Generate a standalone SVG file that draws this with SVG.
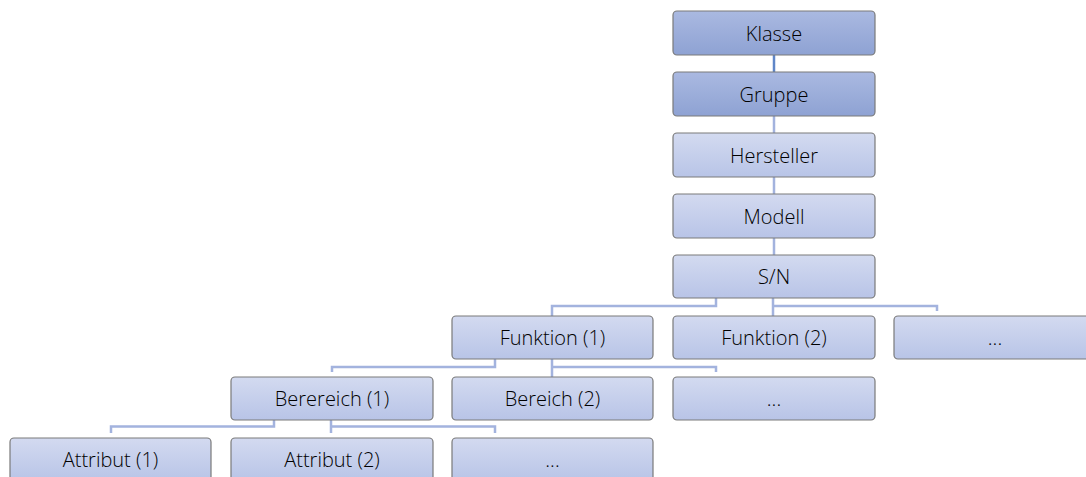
<svg xmlns="http://www.w3.org/2000/svg" width="1086" height="477" viewBox="0 0 1086 477">
<defs>
<linearGradient id="gDark" x1="0" y1="0" x2="0" y2="1">
<stop offset="0" stop-color="#aab9e1"/>
<stop offset="1" stop-color="#8ea2d3"/>
</linearGradient>
<linearGradient id="gLight" x1="0" y1="0" x2="0" y2="1">
<stop offset="0" stop-color="#d3daf0"/>
<stop offset="1" stop-color="#b8c4e7"/>
</linearGradient>
<style>
.box{stroke:#7a7a7a;stroke-width:1.2}
.dark{fill:url(#gDark)}
.light{fill:url(#gLight)}
.lbl{font-family:"Open Sans","Noto Sans",sans-serif;font-weight:300;font-size:20px;fill:#000000;text-anchor:middle;dominant-baseline:central}
.con{fill:none;stroke:#a3b3de;stroke-width:2.5}
.conDark{fill:none;stroke:#5f86c8;stroke-width:2.5}
</style>
</defs>
<rect width="1086" height="477" fill="#ffffff"/>
<g id="connectors">
<path class="conDark" d="M774 55V72"/>
<path class="con" d="M774 116V133"/>
<path class="con" d="M774 177V194"/>
<path class="con" d="M774 238V255"/>
<path class="con" d="M716 298V306H552V316"/>
<path class="con" d="M773 298V316"/>
<path class="con" d="M773 306H937V311"/>
<path class="con" d="M495 359V367H332V372"/>
<path class="con" d="M552 359V377"/>
<path class="con" d="M552 367H716V372"/>
<path class="con" d="M274 420V426.5H111V433"/>
<path class="con" d="M331 420V433"/>
<path class="con" d="M331 426.5H495V433"/>
</g>
<g id="klasse"><rect class="box dark" x="673" y="11" width="202" height="44" rx="4"/><text class="lbl" x="774" y="33">Klasse</text></g>
<g id="gruppe"><rect class="box dark" x="673" y="72" width="202" height="44" rx="4"/><text class="lbl" x="774" y="94">Gruppe</text></g>
<g id="hersteller"><rect class="box light" x="673" y="133" width="202" height="44" rx="4"/><text class="lbl" x="774" y="155">Hersteller</text></g>
<g id="modell"><rect class="box light" x="673" y="194" width="202" height="44" rx="4"/><text class="lbl" x="774" y="216">Modell</text></g>
<g id="sn"><rect class="box light" x="673" y="255" width="202" height="43" rx="4"/><text class="lbl" x="774" y="276.5">S/N</text></g>
<g id="funktion1"><rect class="box light" x="452" y="316" width="201" height="43" rx="4"/><text class="lbl" x="552.5" y="337.5">Funktion (1)</text></g>
<g id="funktion2"><rect class="box light" x="673" y="316" width="202" height="43" rx="4"/><text class="lbl" x="774" y="337.5">Funktion (2)</text></g>
<g id="funktion3"><rect class="box light" x="894" y="316" width="202" height="43" rx="4"/><text class="lbl" x="995" y="337.5">...</text></g>
<g id="bereich1"><rect class="box light" x="231" y="377" width="202" height="43" rx="4"/><text class="lbl" x="332" y="398.5">Berereich (1)</text></g>
<g id="bereich2"><rect class="box light" x="452" y="377" width="201" height="43" rx="4"/><text class="lbl" x="552.5" y="398.5">Bereich (2)</text></g>
<g id="bereich3"><rect class="box light" x="673" y="377" width="202" height="43" rx="4"/><text class="lbl" x="774" y="398.5">...</text></g>
<g id="attribut1"><rect class="box light" x="10" y="438" width="201" height="43" rx="4"/><text class="lbl" x="110.5" y="459.5">Attribut (1)</text></g>
<g id="attribut2"><rect class="box light" x="231" y="438" width="202" height="43" rx="4"/><text class="lbl" x="332" y="459.5">Attribut (2)</text></g>
<g id="attribut3"><rect class="box light" x="452" y="438" width="201" height="43" rx="4"/><text class="lbl" x="552.5" y="459.5">...</text></g>
</svg>
